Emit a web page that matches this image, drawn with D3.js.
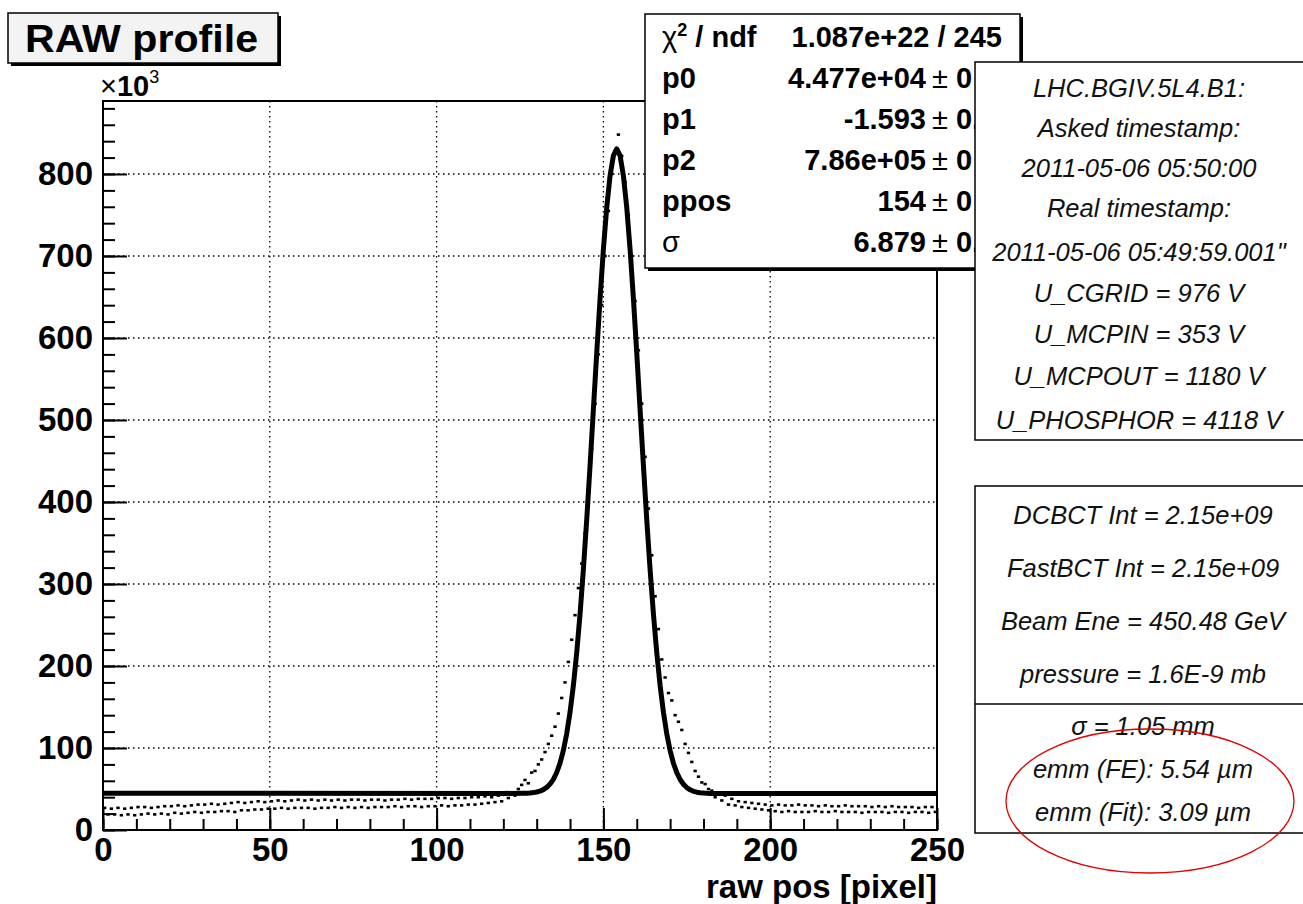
<!DOCTYPE html>
<html>
<head>
<meta charset="utf-8">
<script src="https://cdn.jsdelivr.net/npm/d3@7"></script>
<style>
    body { margin: 0; background: #fff; }
    svg text { font-family: "Liberation Sans", Arial, Helvetica, sans-serif; }
</style>
</head>
<body>
<div id="raw-profile-chart"></div>
<script>

//----- data (counts are in units of 10^3) -----

// one bin per raw pixel, 0..249
var binStart = d3.range(0, 250);

var counts = [
    27, 19, 26, 19, 27, 18, 26, 19, 27, 18,
    28, 19, 28, 20, 27, 19, 28, 20, 29, 19,
    29, 21, 30, 20, 29, 21, 30, 22, 31, 21,
    31, 22, 32, 22, 31, 23, 32, 23, 33, 22,
    34, 24, 33, 24, 34, 25, 35, 25, 34, 26,
    35, 26, 36, 27, 35, 26, 36, 27, 37, 27,
    36, 27, 37, 26, 36, 27, 37, 27, 36, 28,
    37, 27, 36, 28, 37, 27, 37, 28, 36, 27,
    37, 28, 37, 28, 36, 28, 37, 29, 37, 28,
    38, 29, 37, 29, 38, 28, 38, 29, 38, 29,
    39, 30, 39, 29, 38, 30, 39, 30, 39, 31,
    40, 31, 40, 32, 41, 33, 40, 34, 42, 35,
    43, 39, 45, 42, 50, 55, 61, 57, 70, 72,
    80, 86, 95, 105, 115, 126, 142, 161, 180, 205,
    232, 262, 295, 325, 362, 410, 465, 520, 580, 640,
    700, 755, 800, 828, 848, 822, 790, 750, 700, 645,
    585, 520, 455, 392, 335, 285, 245, 208, 186, 167,
    158, 140, 132, 122, 105, 94, 83, 72, 65, 58,
    56, 50, 48, 40, 44, 36, 42, 31, 38, 30,
    35, 28, 34, 27, 33, 26, 32, 25, 31, 24,
    30, 23, 31, 22, 30, 23, 30, 22, 31, 22,
    30, 22, 30, 23, 29, 22, 30, 22, 29, 23,
    29, 22, 30, 22, 29, 22, 29, 21, 29, 22,
    28, 22, 29, 22, 28, 21, 29, 22, 28, 22,
    28, 21, 28, 22, 27, 22, 28, 21, 28, 22
];

// fitted curve
var fitX = [0, 120, 126, 127, 128, 129, 130, 131, 132, 133, 134, 135, 136, 137, 138, 139,
    140, 141, 142, 143, 144, 145, 146, 147, 148, 149, 150, 151, 152, 153, 154,
    155, 156, 157, 158, 159, 160, 161, 162, 163, 164, 165, 166, 167, 168, 169,
    170, 171, 172, 173, 174, 175, 176, 177, 178, 179, 180, 181, 182, 190, 250];
var fitY = [44.8, 44.6, 44.8, 44.9, 45.2, 45.6, 46.3, 47.4, 49.2, 51.9, 56.0, 61.8, 70.1, 81.6, 97.1, 117.4,
    143.6, 176.3, 216.2, 263.4, 317.8, 378.5, 444.3, 512.9, 581.9, 648.1, 708.3, 759.2, 798.0, 822.5, 830.5,
    822.4, 797.8, 759.0, 708.1, 647.9, 581.7, 512.7, 444.1, 378.3, 317.6, 263.2, 216.0, 176.1, 143.4, 117.2,
    96.9, 81.4, 69.9, 61.6, 55.8, 51.7, 49.0, 47.2, 46.1, 45.4, 45.0, 44.7, 44.6, 44.5, 44.4];

var xTicks = [0, 50, 100, 150, 200, 250];
var xMinorTicks = [0, 10, 20, 30, 40, 50, 60, 70, 80, 90, 100, 110, 120, 130, 140, 150, 160, 170, 180, 190, 200, 210, 220, 230, 240, 250];
var yTicks = [0, 100, 200, 300, 400, 500, 600, 700, 800];
var yMinorTicks = [0, 20, 40, 60, 80, 100, 120, 140, 160, 180, 200, 220, 240, 260, 280, 300, 320, 340, 360, 380,
    400, 420, 440, 460, 480, 500, 520, 540, 560, 580, 600, 620, 640, 660, 680, 700, 720, 740, 760, 780,
    800, 820, 840, 860, 880];

var chiValue = "1.087e+22 / 245";
var statLabels = ["p0", "p1", "p2", "ppos", "σ"];
var statValues = ["4.477e+04", "-1.593", "7.86e+05", "154", "6.879"];
// errors are cut off by the info box, only the first digits show
var statErrors = ["0", "0.0", "0", "0", "0.0"];

var infoLines = ["LHC.BGIV.5L4.B1:", "Asked timestamp:", "2011-05-06 05:50:00", "Real timestamp:",
    "2011-05-06 05:49:59.001\"", "U_CGRID = 976 V", "U_MCPIN = 353 V", "U_MCPOUT = 1180 V",
    "U_PHOSPHOR = 4118 V"];
var beamLines = ["DCBCT Int = 2.15e+09", "FastBCT Int = 2.15e+09", "Beam Ene = 450.48 GeV", "pressure = 1.6E-9 mb"];
var emmLines = ["σ = 1.05 mm", "emm (FE): 5.54 µm", "emm (Fit): 3.09 µm"];


//----- svg + frame -----

var W = 1303, H = 904;
var margin = {top: 101, right: 366, bottom: 74, left: 103};
var width = W - margin.left - margin.right;
var height = H - margin.top - margin.bottom;

var root = d3.select("#raw-profile-chart").append("svg")
    .attr("width", W)
    .attr("height", H);

root.append("rect").attr("width", W).attr("height", H).attr("fill", "#fff");

var svg = root.append("g")
    .attr("transform", "translate(" + margin.left + "," + margin.top + ")");

var x = d3.scaleLinear().domain([0, 250]).range([0, width]);
var y = d3.scaleLinear().domain([0, 889]).range([height, 0]);

svg.append("clipPath").attr("id", "frame-clip")
    .append("rect").attr("width", width).attr("height", height);

//dotted grid at the major ticks
svg.selectAll(".vgrid")
    .data(xTicks.slice(1, -1))
    .enter().append("line")
    .attr("x1", function(d) { return x(d); })
    .attr("x2", function(d) { return x(d); })
    .attr("y1", 0).attr("y2", height)
    .attr("stroke", "#000").attr("stroke-width", 1.3)
    .attr("stroke-dasharray", "1.5,3.5");

svg.selectAll(".hgrid")
    .data(yTicks.slice(1))
    .enter().append("line")
    .attr("x1", 0).attr("x2", width)
    .attr("y1", function(d) { return y(d); })
    .attr("y2", function(d) { return y(d); })
    .attr("stroke", "#000").attr("stroke-width", 1.3)
    .attr("stroke-dasharray", "1.5,3.5");

//histogram: one small horizontal dash per bin
var plot = svg.append("g").attr("clip-path", "url(#frame-clip)");

plot.selectAll(".bin")
    .data(binStart)
    .enter().append("line")
    .attr("class", "bin")
    .attr("x1", function(d) { return x(d); })
    .attr("x2", function(d) { return x(d + 1); })
    .attr("y1", function(d, i) { return y(counts[i]); })
    .attr("y2", function(d, i) { return y(counts[i]); })
    .attr("stroke", "#000")
    .attr("stroke-width", 2.6);

//fit function
var fitLine = d3.line()
    .x(function(d, i) { return x(fitX[i]); })
    .y(function(d) { return y(d); });

plot.append("path")
    .datum(fitY)
    .attr("d", fitLine)
    .attr("fill", "none")
    .attr("stroke", "#000")
    .attr("stroke-width", 5)
    .attr("stroke-linejoin", "round");

//----- axes -----

function styleAxis(g, fontSize) {
    g.select(".domain").remove();
    g.selectAll(".tick line").attr("stroke", "#000").attr("stroke-width", 2);
    g.selectAll("text")
        .attr("fill", "#000")
        .style("font-size", fontSize + "px")
        .style("font-weight", "bold");
}

svg.append("g")
    .attr("transform", "translate(0," + height + ")")
    .call(d3.axisBottom(x).tickValues(xMinorTicks).tickSize(-11).tickSizeOuter(0).tickFormat(""))
    .call(styleAxis, 33);

svg.append("g")
    .attr("transform", "translate(0," + height + ")")
    .call(d3.axisBottom(x).tickValues(xTicks).tickSize(-22).tickSizeOuter(0).tickPadding(8))
    .call(styleAxis, 33);

svg.append("g")
    .call(d3.axisLeft(y).tickValues(yMinorTicks).tickSize(-12).tickSizeOuter(0).tickFormat(""))
    .call(styleAxis, 33);

svg.append("g")
    .call(d3.axisLeft(y).tickValues(yTicks).tickSize(-24).tickSizeOuter(0).tickPadding(10))
    .call(styleAxis, 33);

svg.append("rect")
    .attr("width", width).attr("height", height)
    .attr("fill", "none").attr("stroke", "#000").attr("stroke-width", 2);

//x axis title
svg.append("text")
    .attr("x", width).attr("y", height + 68)
    .attr("text-anchor", "end")
    .style("font-size", "33px").style("font-weight", "bold")
    .text("raw pos [pixel]");

//exponent label above y axis
var expo = svg.append("text")
    .attr("x", -3).attr("y", -5)
    .style("font-size", "29px");
expo.append("tspan").text("×");
expo.append("tspan").style("font-weight", "bold").text("10");
expo.append("tspan").attr("dy", -13).style("font-size", "18px").text("3");

//----- title box -----

root.append("rect").attr("x", 11).attr("y", 16).attr("width", 270).attr("height", 50).attr("fill", "#000");
root.append("rect").attr("x", 8).attr("y", 13).attr("width", 270).attr("height", 50)
    .attr("fill", "#f3f3f3").attr("stroke", "#000").attr("stroke-width", 1.5);
root.append("text")
    .attr("x", 25).attr("y", 52)
    .attr("textLength", 233).attr("lengthAdjust", "spacingAndGlyphs")
    .style("font-size", "38px").style("font-weight", "bold")
    .text("RAW profile");

//----- fit stats box -----

root.append("rect").attr("x", 648).attr("y", 17).attr("width", 375).attr("height", 254).attr("fill", "#000");
root.append("rect").attr("x", 645).attr("y", 14).attr("width", 375).attr("height", 254)
    .attr("fill", "#fff").attr("stroke", "#000").attr("stroke-width", 1.5);

root.append("clipPath").attr("id", "stats-clip")
    .append("rect").attr("x", 645).attr("y", 14).attr("width", 330).attr("height", 254);

var rowY = function(i) { return 47 + 41 * i; };

var chi = root.append("text").attr("x", 662).attr("y", rowY(0)).style("font-size", "29px");
chi.append("tspan").text("χ");
chi.append("tspan").attr("dy", -11).style("font-size", "18px").style("font-weight", "bold").text("2");
chi.append("tspan").attr("dy", 11).style("font-weight", "bold").text(" / ndf");

root.append("text")
    .attr("x", 1002).attr("y", rowY(0))
    .attr("text-anchor", "end")
    .style("font-size", "29px").style("font-weight", "bold")
    .text(chiValue);

root.selectAll(".stat-label")
    .data(statLabels)
    .enter().append("text")
    .attr("x", 662)
    .attr("y", function(d, i) { return rowY(i + 1); })
    .style("font-size", "29px")
    .style("font-weight", function(d) { return d == "σ" ? "normal" : "bold"; })
    .text(function(d) { return d; });

root.selectAll(".stat-value")
    .data(statValues)
    .enter().append("text")
    .attr("x", 926)
    .attr("y", function(d, i) { return rowY(i + 1); })
    .attr("text-anchor", "end")
    .style("font-size", "29px").style("font-weight", "bold")
    .text(function(d) { return d; });

root.append("g").attr("clip-path", "url(#stats-clip)")
    .selectAll(".stat-error")
    .data(statErrors)
    .enter().append("text")
    .attr("x", 932)
    .attr("y", function(d, i) { return rowY(i + 1); })
    .style("font-size", "29px")
    .each(function(d) {
        d3.select(this).append("tspan").text("± ");
        d3.select(this).append("tspan").style("font-weight", "bold").text(d);
    });

//----- info boxes on the right -----

root.append("rect").attr("x", 975).attr("y", 62).attr("width", 360).attr("height", 378)
    .attr("fill", "#fff").attr("stroke", "#000").attr("stroke-width", 1.5);

root.selectAll(".info-line")
    .data(infoLines)
    .enter().append("text")
    .attr("x", 1139)
    .attr("y", function(d, i) { return [97, 137, 177, 217, 261, 302, 343, 385, 429][i]; })
    .attr("text-anchor", "middle")
    .style("font-size", "25.5px").style("font-style", "italic").attr("fill", "#111")
    .text(function(d) { return d; });

root.append("rect").attr("x", 975).attr("y", 486).attr("width", 360).attr("height", 347)
    .attr("fill", "#fff").attr("stroke", "#000").attr("stroke-width", 1.5);
root.append("line").attr("x1", 975).attr("x2", 1335).attr("y1", 704).attr("y2", 704)
    .attr("stroke", "#000").attr("stroke-width", 1.5);

root.selectAll(".beam-line")
    .data(beamLines)
    .enter().append("text")
    .attr("x", 1143)
    .attr("y", function(d, i) { return 524 + 53 * i; })
    .attr("text-anchor", "middle")
    .style("font-size", "25.5px").style("font-style", "italic").attr("fill", "#111")
    .text(function(d) { return d; });

root.selectAll(".emm-line")
    .data(emmLines)
    .enter().append("text")
    .attr("x", 1143)
    .attr("y", function(d, i) { return 735 + 43 * i; })
    .attr("text-anchor", "middle")
    .style("font-size", "25.5px").style("font-style", "italic").attr("fill", "#111")
    .text(function(d) { return d; });

//red ellipse drawn by hand around the emittance values
root.append("ellipse")
    .attr("cx", 1150).attr("cy", 801).attr("rx", 144).attr("ry", 72)
    .attr("fill", "none").attr("stroke", "#e00000").attr("stroke-width", 1.3);

</script>
</body>
</html>
